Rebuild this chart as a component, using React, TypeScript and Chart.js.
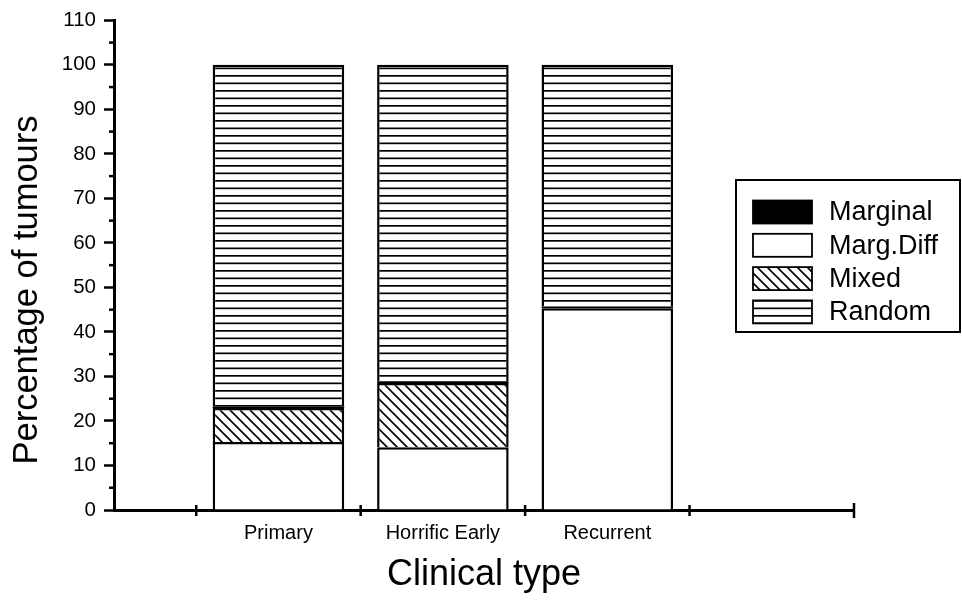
import React, { useEffect, useRef } from 'react';
import { Chart, registerables } from 'chart.js';

Chart.register(...registerables);

const FONT = '"Liberation Sans", Arial, Helvetica, sans-serif';

// ---- data ----
const categories = ['Primary', 'Horrific Early', 'Recurrent'];
const margDiff = [15.3, 14.1, 45.3];
const mixed = [7.6, 14.4, 0];
const marginal = [0.4, 0.4, 0.4];
const random = [76.7, 71.1, 54.3];
const categoryPositions = [1, 2, 3];
const xDividers = [0.5, 1.5, 2.5, 3.5, 4.5];
const legendLabels = ['Marginal', 'Marg.Diff', 'Mixed', 'Random'];
const xTitle = 'Clinical type';
const yTitle = 'Percentage of tumours';

function makeHLines(): CanvasPattern | string {
  const c = document.createElement('canvas');
  c.width = 8;
  c.height = 15;
  const g = c.getContext('2d');
  if (!g) return '#fff';
  g.fillStyle = '#fff';
  g.fillRect(0, 0, 8, 15);
  g.fillStyle = '#000';
  g.fillRect(0, 0, 8, 1.7);
  g.fillRect(0, 7.5, 8, 1.7);
  return g.createPattern(c, 'repeat') || '#fff';
}

function makeDiag(): CanvasPattern | string {
  const c = document.createElement('canvas');
  c.width = 10;
  c.height = 10;
  const g = c.getContext('2d');
  if (!g) return '#fff';
  g.fillStyle = '#fff';
  g.fillRect(0, 0, 10, 10);
  g.strokeStyle = '#000';
  g.lineWidth = 1.6;
  g.beginPath();
  g.moveTo(-2, -2);
  g.lineTo(12, 12);
  g.moveTo(-2, 8);
  g.lineTo(2, 12);
  g.moveTo(8, -2);
  g.lineTo(12, 2);
  g.stroke();
  return g.createPattern(c, 'repeat') || '#fff';
}

export default function App() {
  const ref = useRef<HTMLCanvasElement | null>(null);

  useEffect(() => {
    if (!ref.current) return;
    const hLines = makeHLines();
    const diag = makeDiag();
    const fills: Record<string, any> = {
      Marginal: '#000',
      'Marg.Diff': '#fff',
      Mixed: diag,
      Random: hLines,
    };

    const toPts = (arr: number[]) => arr.map((v, i) => ({ x: categoryPositions[i], y: v }));

    const decor = {
      id: 'decor',
      afterDraw(chart: any) {
        const { ctx, chartArea, scales } = chart;
        const xs = scales.x;
        const ys = scales.y;
        ctx.save();
        ctx.strokeStyle = '#000';
        // minor y ticks
        ctx.lineWidth = 2.5;
        ys.ticks.forEach((t: any) => {
          if (t.value % 10 !== 0) {
            const py = ys.getPixelForValue(t.value);
            ctx.beginPath();
            ctx.moveTo(chartArea.left - 5, py);
            ctx.lineTo(chartArea.left, py);
            ctx.stroke();
          }
        });
        // x dividers crossing the axis
        ctx.lineWidth = 2.5;
        xDividers.forEach((v, i) => {
          const px = xs.getPixelForValue(v);
          const ext = i === xDividers.length - 1 ? 7 : 5;
          ctx.beginPath();
          ctx.moveTo(px, chartArea.bottom - ext);
          ctx.lineTo(px, chartArea.bottom + ext + 1);
          ctx.stroke();
        });
        // y title
        ctx.fillStyle = '#000';
        ctx.font = `34.5px ${FONT}`;
        ctx.textAlign = 'center';
        ctx.textBaseline = 'middle';
        ctx.translate(27, 290);
        ctx.rotate(-Math.PI / 2);
        ctx.fillText(yTitle, 0, 0);
        ctx.restore();

        // legend
        ctx.save();
        const bx = 736, by = 180, bw = 224, bh = 152;
        ctx.fillStyle = '#fff';
        ctx.fillRect(bx, by, bw, bh);
        ctx.strokeStyle = '#000';
        ctx.lineWidth = 2;
        ctx.strokeRect(bx, by, bw, bh);
        ctx.font = `27px ${FONT}`;
        ctx.textAlign = 'left';
        ctx.textBaseline = 'middle';
        legendLabels.forEach((lab, i) => {
          const cy = 212 + i * 33.3;
          const sx = 753, sw = 59, sh = 23;
          ctx.fillStyle = fills[lab];
          ctx.fillRect(sx, cy - sh / 2, sw, sh);
          ctx.lineWidth = 1.8;
          ctx.strokeStyle = '#000';
          ctx.strokeRect(sx, cy - sh / 2, sw, sh);
          ctx.fillStyle = '#000';
          ctx.fillText(lab, 829, cy + 1);
        });
        ctx.restore();
      },
    };

    const chart = new Chart(ref.current, {
      type: 'bar',
      data: {
        datasets: [
          { label: 'Marg.Diff', data: toPts(margDiff), backgroundColor: fills['Marg.Diff'], borderColor: '#000', borderWidth: 2.5 },
          { label: 'Mixed', data: toPts(mixed), backgroundColor: fills['Mixed'], borderColor: '#000', borderWidth: 2.5 },
          { label: 'Marginal', data: toPts(marginal), backgroundColor: fills['Marginal'], borderColor: '#000', borderWidth: 0 },
          { label: 'Random', data: toPts(random), backgroundColor: fills['Random'], borderColor: '#000', borderWidth: 2.5 },
        ] as any,
      },
      options: {
        responsive: false,
        animation: false,
        layout: { padding: { top: 20, right: 108, left: 0, bottom: 0 } },
        datasets: { bar: { categoryPercentage: 1, barPercentage: 0.8 } } as any,
        plugins: { legend: { display: false }, tooltip: { enabled: false } },
        scales: {
          x: {
            type: 'linear',
            min: 0,
            max: 4.5,
            stacked: true,
            offset: false,
            afterBuildTicks: (s: any) => {
              s.ticks = categoryPositions.map((v) => ({ value: v }));
            },
            afterFit: (s: any) => {
              s.height = 91;
            },
            ticks: {
              autoSkip: false,
              maxRotation: 0,
              padding: 11,
              color: '#000',
              font: { size: 20, family: FONT },
              callback: (v: any) => categories[categoryPositions.indexOf(Number(v))] ?? '',
            },
            grid: { display: false, drawTicks: false },
            border: { display: true, color: '#000', width: 3 },
            title: {
              display: true,
              text: xTitle,
              color: '#000',
              font: { size: 36, family: FONT },
              padding: { top: 0, bottom: 4 },
            },
          },
          y: {
            min: 0,
            max: 110,
            stacked: true,
            afterFit: (s: any) => {
              s.width = 114;
            },
            ticks: {
              stepSize: 5,
              autoSkip: false,
              padding: 8,
              color: '#000',
              font: { size: 20.5, family: FONT },
              callback: (v: any) => (Number(v) % 10 === 0 ? String(v) : ''),
            },
            grid: {
              display: true,
              drawOnChartArea: false,
              drawTicks: true,
              tickLength: 10,
              tickWidth: 2.5,
              tickColor: (c: any) => (c.tick && c.tick.value % 10 === 0 ? '#000' : 'rgba(0,0,0,0)'),
            },
            border: { display: true, color: '#000', width: 3 },
          },
        },
      } as any,
      plugins: [decor],
    });
    return () => chart.destroy();
  }, []);

  return (
    <div style={{ position: 'absolute', left: 0, top: 0, width: 962, height: 601, background: '#fff' }}>
      <canvas ref={ref} width={962} height={601} style={{ display: 'block' }} />
    </div>
  );
}
